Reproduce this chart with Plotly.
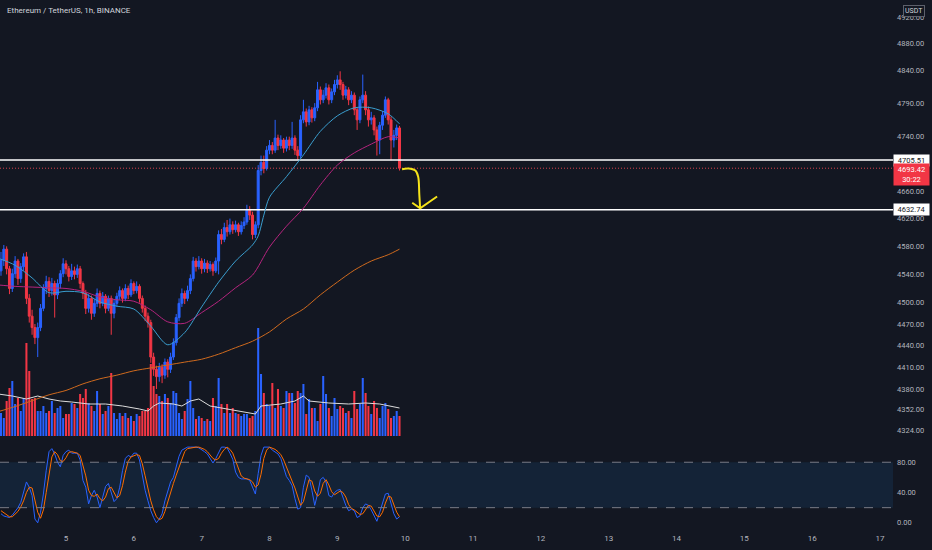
import numpy as np
import pandas as pd
import plotly.graph_objects as go

BG = '#131722'
UP = '#2962ff'
DOWN = '#f23645'
TXT = '#b2b5be'
FONT = 'Roboto'

BASE = pd.Timestamp('2021-11-04 00:00')

# hourly candles, Nov 4 01:00 .. Nov 9 22:00
FIRST_OPEN = 4545
closes = [4560, 4576, 4548, 4520, 4541, 4559, 4534, 4551, 4565, 4506,
          4481, 4465, 4451, 4465, 4492, 4520, 4530, 4517, 4527, 4511,
          4527, 4541, 4555, 4548, 4537, 4545, 4540, 4548, 4527, 4513,
          4492, 4506, 4485, 4499, 4513, 4499, 4509, 4492, 4506, 4485,
          4499, 4509, 4517, 4506, 4520, 4511, 4527, 4517, 4523, 4506,
          4492, 4481, 4472, 4424, 4407, 4397, 4410, 4399, 4417, 4407,
          4424, 4444, 4479, 4499, 4513, 4506, 4517, 4534, 4559, 4551,
          4559, 4548, 4556, 4548, 4554, 4545, 4559, 4597, 4590, 4607,
          4601, 4611, 4604, 4611, 4601, 4610, 4615, 4632, 4625, 4597,
          4611, 4690, 4702, 4693, 4720, 4727, 4720, 4738, 4727, 4735,
          4723, 4735, 4727, 4738, 4720, 4712, 4765, 4777, 4762, 4780,
          4768, 4783, 4810, 4795, 4802, 4813, 4795, 4807, 4818, 4825,
          4818, 4802, 4810, 4795, 4802, 4780, 4765, 4795, 4802, 4780,
          4765, 4768, 4750, 4735, 4757, 4772, 4795, 4765, 4735, 4742,
          4753, 4693.42]
highs = [4572, 4582, 4580, 4552, 4548, 4566, 4562, 4556, 4570, 4572,
         4512, 4490, 4470, 4472, 4498, 4526, 4538, 4536, 4535, 4531,
         4533, 4546, 4563, 4560, 4552, 4555, 4551, 4554, 4552, 4530,
         4518, 4512, 4510, 4505, 4520, 4517, 4515, 4512, 4510, 4510,
         4504, 4514, 4523, 4520, 4526, 4524, 4533, 4530, 4530, 4526,
         4510, 4496, 4486, 4476, 4430, 4412, 4416, 4414, 4422, 4421,
         4430, 4450, 4484, 4506, 4520, 4517, 4524, 4540, 4565, 4563,
         4566, 4563, 4562, 4560, 4559, 4557, 4564, 4603, 4605, 4614,
         4618, 4620, 4616, 4617, 4614, 4616, 4622, 4640, 4638, 4630,
         4616, 4698, 4712, 4712, 4726, 4735, 4732, 4765, 4743, 4742,
         4738, 4740, 4740, 4762, 4742, 4726, 4772, 4795, 4782, 4786,
         4784, 4790, 4822, 4815, 4810, 4820, 4818, 4812, 4825, 4832,
         4838, 4822, 4816, 4814, 4808, 4806, 4784, 4800, 4833, 4808,
         4785, 4777, 4772, 4755, 4762, 4778, 4800, 4798, 4770, 4750,
         4758, 4756]
lows = [4538, 4552, 4540, 4512, 4515, 4535, 4525, 4528, 4545, 4498,
        4472, 4455, 4442, 4424, 4460, 4488, 4512, 4508, 4510, 4479,
        4505, 4520, 4536, 4540, 4530, 4532, 4533, 4535, 4520, 4505,
        4484, 4486, 4476, 4480, 4494, 4492, 4495, 4485, 4488, 4455,
        4478, 4494, 4504, 4500, 4502, 4505, 4508, 4512, 4513, 4500,
        4486, 4474, 4465, 4416, 4398, 4380, 4390, 4388, 4394, 4396,
        4402, 4420, 4440, 4474, 4494, 4498, 4502, 4512, 4530, 4544,
        4547, 4541, 4543, 4542, 4544, 4538, 4542, 4540, 4583, 4586,
        4594, 4597, 4598, 4600, 4595, 4597, 4605, 4611, 4618, 4590,
        4592, 4606, 4683, 4686, 4690, 4714, 4714, 4716, 4720, 4722,
        4716, 4718, 4720, 4722, 4713, 4706, 4708, 4760, 4755, 4757,
        4761, 4763, 4778, 4788, 4790, 4797, 4788, 4790, 4802, 4812,
        4810, 4795, 4797, 4787, 4790, 4772, 4750, 4760, 4790, 4772,
        4755, 4758, 4742, 4712, 4714, 4750, 4768, 4758, 4705, 4724,
        4735, 4690]
volume = [23, 18, 35, 48, 55, 32, 38, 25, 38, 93,
          65, 37, 38, 25, 25, 30, 23, 25, 35, 23,
          28, 30, 18, 22, 22, 33, 32, 28, 42, 38,
          47, 33, 30, 25, 45, 32, 22, 25, 30, 63,
          23, 17, 23, 20, 23, 18, 20, 15, 22, 20,
          25, 25, 28, 72, 50, 42, 40, 35, 42, 38,
          33, 45, 43, 23, 17, 25, 37, 55, 28, 17,
          20, 18, 15, 17, 15, 38, 30, 58, 32, 23,
          32, 23, 28, 23, 22, 20, 22, 22, 18, 20,
          25, 108, 62, 43, 32, 30, 53, 28, 47, 30,
          28, 45, 43, 43, 33, 45, 43, 52, 22, 37,
          28, 28, 15, 32, 60, 42, 28, 20, 38, 27,
          30, 28, 23, 25, 18, 45, 27, 32, 58, 43,
          30, 22, 35, 28, 18, 30, 33, 27, 18, 20,
          25, 20]

vol_ma_hours = [0, 5, 10, 14, 18, 22, 26, 32, 38, 44, 50, 53, 55, 57, 62, 65,
                68, 71, 75, 79, 85, 91, 93, 100, 105, 108, 110, 117, 124, 130, 135, 142]
vol_ma = [42, 40, 37, 40, 37, 35, 34, 32, 32, 30, 27, 25, 30, 33, 32, 30,
          35, 37, 30, 28, 25, 22, 30, 32, 35, 40, 35, 33, 32, 33, 32, 28]

ema_fast_hours = [0, 6, 12, 18, 24, 30, 36, 42, 48, 54, 60, 66, 72, 78, 84, 90,
                  92, 94, 96, 102, 108, 114, 120, 126, 132, 138, 142]
ema_fast = [4563, 4553, 4535, 4514, 4516, 4514, 4501, 4495, 4491, 4467, 4441, 4458,
            4494, 4529, 4559, 4582, 4595, 4625, 4651, 4681, 4713, 4748, 4771, 4783,
            4783, 4774, 4759]
ema_hours = [0, 6, 12, 18, 24, 30, 36, 42, 48, 54, 60, 66, 72, 78, 84, 90,
             96, 102, 108, 114, 120, 126, 132, 138, 142]
ema_mid = [4525, 4523, 4522, 4521, 4520, 4516, 4508, 4504, 4502, 4490, 4473, 4471,
           4486, 4502, 4521, 4539, 4579, 4609, 4635, 4669, 4698, 4716, 4729, 4740, 4738]
ema_slow = [4349, 4356, 4364, 4372, 4378, 4387, 4394, 4399, 4405, 4409, 4413, 4417,
            4421, 4428, 4437, 4446, 4459, 4477, 4491, 4511, 4529, 4546, 4559, 4568, 4576]

stoch_k = [12, 9, 8, 7, 10, 15, 20, 27, 40, 54,
           47, 36, 5, 0, 14, 38, 69, 94, 98, 91,
           80, 74, 89, 94, 96, 92, 92, 92, 83, 56,
           47, 25, 36, 43, 34, 20, 34, 48, 52, 40,
           28, 32, 47, 69, 85, 89, 87, 92, 92, 83,
           60, 43, 29, 16, 7, 0, 5, 12, 29, 43,
           54, 60, 74, 88, 96, 98, 100, 100, 100, 100,
           99, 97, 94, 91, 85, 79, 85, 92, 100, 100,
           99, 92, 84, 67, 60, 58, 58, 58, 56, 47,
           38, 65, 89, 100, 100, 100, 96, 94, 91, 85,
           74, 61, 56, 49, 32, 18, 20, 47, 63, 60,
           43, 23, 38, 57, 60, 54, 36, 34, 40, 43,
           44, 34, 23, 16, 18, 16, 7, 9, 20, 25,
           23, 17, 9, 2, 14, 27, 38, 39, 25, 12,
           5, 8]
stoch_d = [16, 13, 10, 8, 8, 11, 15, 21, 29, 40,
           47, 46, 29, 14, 6, 17, 40, 67, 87, 94,
           90, 82, 81, 86, 93, 94, 93, 92, 89, 77,
           62, 43, 36, 35, 38, 32, 29, 34, 45, 47,
           40, 33, 36, 49, 67, 81, 87, 89, 90, 89,
           78, 62, 44, 29, 17, 8, 4, 6, 15, 28,
           42, 52, 63, 74, 86, 94, 98, 99, 100, 100,
           100, 99, 97, 94, 90, 85, 83, 85, 92, 97,
           100, 97, 92, 81, 70, 62, 59, 58, 57, 54,
           47, 50, 64, 85, 96, 100, 99, 97, 94, 90,
           83, 73, 64, 55, 46, 33, 23, 28, 43, 57,
           55, 42, 35, 39, 52, 57, 50, 41, 37, 39,
           42, 40, 34, 24, 19, 17, 14, 11, 12, 18,
           23, 22, 16, 9, 8, 14, 26, 35, 34, 25,
           14, 8]

levels = [4705.51, 4632.74]
last_price = 4693.42
countdown = '30:22'

price_ticks = [4324, 4352, 4380, 4410, 4440, 4470, 4500, 4540, 4580, 4620,
               4660, 4740, 4790, 4840, 4880, 4920]
stoch_ticks = [0, 40, 80]
day_labels = [str(d) for d in range(5, 18)]

# hand-drawn arrow (hours from BASE, price)
arrow_h = [142.9, 145.1, 147.6, 148.6, 149.0, 149.3]
arrow_p = [4692, 4693, 4690, 4681, 4655, 4635]
head_h = [146.5, 149.3, 155.3]
head_p = [4643, 4635, 4652]


def at_hours(hs):
    return [BASE + pd.Timedelta(hours=h) for h in hs]


times = pd.date_range('2021-11-04 01:00', periods=len(closes), freq='h')
opens = [FIRST_OPEN] + closes[:-1]
vol_colors = [UP if c >= o else DOWN for o, c in zip(opens, closes)]

x_left = BASE + pd.Timedelta(hours=0.65)
x_right = BASE + pd.Timedelta(hours=316.6)

fig = go.Figure()

# volume overlay (behind price)
fig.add_trace(go.Bar(x=times, y=volume, marker_color=vol_colors, marker_line_width=0,
                     width=0.72 * 3600 * 1000, xaxis='x', yaxis='y', showlegend=False))
fig.add_trace(go.Scatter(x=at_hours(vol_ma_hours), y=vol_ma, mode='lines',
                         line=dict(color='#dcdcdc', width=1), xaxis='x', yaxis='y',
                         showlegend=False))

# horizontal levels
for lv in levels:
    fig.add_trace(go.Scatter(x=[x_left, x_right], y=[lv, lv], mode='lines',
                             line=dict(color='#ffffff', width=1.6), yaxis='y2',
                             showlegend=False))
fig.add_trace(go.Scatter(x=[x_left, x_right], y=[last_price, last_price], mode='lines',
                         line=dict(color='#d8404b', width=1, dash='1px,2px'), yaxis='y2',
                         showlegend=False))

# moving averages
for hs, vals, col in [(ema_hours, ema_slow, '#cf6a1e'),
                      (ema_hours, ema_mid, '#b5247e'),
                      (ema_fast_hours, ema_fast, '#3a9ecf')]:
    fig.add_trace(go.Scatter(x=at_hours(hs), y=vals, mode='lines',
                             line=dict(color=col, width=1, shape='spline', smoothing=0.8),
                             yaxis='y2', showlegend=False))

fig.add_trace(go.Candlestick(
    x=times, open=opens, high=highs, low=lows, close=closes,
    increasing=dict(line=dict(color=UP, width=1), fillcolor=UP),
    decreasing=dict(line=dict(color=DOWN, width=1), fillcolor=DOWN),
    xaxis='x', yaxis='y2', showlegend=False))

# yellow arrow
fig.add_trace(go.Scatter(x=at_hours(arrow_h), y=arrow_p, mode='lines',
                         line=dict(color='#f5e31a', width=2, shape='spline'),
                         yaxis='y2', showlegend=False))
fig.add_trace(go.Scatter(x=at_hours(head_h), y=head_p, mode='lines',
                         line=dict(color='#f5e31a', width=2),
                         yaxis='y2', showlegend=False))

# stochastic RSI
fig.add_trace(go.Scatter(x=times, y=stoch_k, mode='lines', line=dict(color=UP, width=1),
                         yaxis='y3', showlegend=False))
fig.add_trace(go.Scatter(x=times, y=stoch_d, mode='lines', line=dict(color='#ff6d00', width=1),
                         yaxis='y3', showlegend=False))

PH = 532.0
main_bottom = (PH - 438) / PH
stoch_top = (PH - 444) / PH

annotations = [
    dict(text='Ethereum / TetherUS, 1h, BINANCE', xref='paper', yref='paper',
         x=0.0056, y=1 - 11 / PH, xanchor='left', yanchor='middle', showarrow=False,
         font=dict(family=FONT, size=8, color='#d1d4dc')),
    dict(text='USDT', xref='paper', yref='paper', x=1 + 21 / 893, y=1 - 11 / PH,
         xanchor='center', yanchor='middle', showarrow=False,
         font=dict(family=FONT, size=7, color='#d1d4dc'),
         bordercolor='#5d606b', borderwidth=1, borderpad=1, bgcolor=BG),
]
for lv in levels:
    annotations.append(dict(text=f'{lv:.2f}', xref='paper', yref='y2', x=1.0,
                            y=np.log10(lv), xanchor='left', yanchor='middle',
                            showarrow=False, width=33, bgcolor='#ffffff', borderpad=1,
                            font=dict(family=FONT, size=7.5, color=BG)))
annotations.append(dict(text=f'{last_price:.2f}<br>{countdown}', xref='paper', yref='y2',
                        x=1.0, y=np.log10(last_price), xanchor='left', yanchor='top',
                        yshift=5, showarrow=False, width=33, bgcolor=DOWN, borderpad=1,
                        align='center', font=dict(family=FONT, size=7.5, color='#ffffff')))

shapes = [
    dict(type='rect', xref='paper', yref='y3', x0=0, x1=1, y0=20, y1=80,
         fillcolor='rgba(33,150,243,0.1)', line=dict(width=0), layer='below'),
    dict(type='line', xref='paper', yref='y3', x0=0, x1=1, y0=80, y1=80,
         line=dict(color='#787b86', width=1, dash='dash')),
    dict(type='line', xref='paper', yref='y3', x0=0, x1=1, y0=20, y1=20,
         line=dict(color='#787b86', width=1, dash='dash')),
]

fig.update_layout(
    width=932, height=550,
    margin=dict(l=0, r=39, t=0, b=18),
    paper_bgcolor=BG, plot_bgcolor=BG,
    font=dict(family=FONT, color=TXT, size=8),
    boxgap=0.3, boxgroupgap=0,
    showlegend=False,
    xaxis=dict(type='date', range=[x_left, x_right], anchor='y3',
               tickvals=[pd.Timestamp('2021-11-05') + pd.Timedelta(days=i) for i in range(len(day_labels))],
               ticktext=day_labels, tickfont=dict(size=8, color=TXT),
               showgrid=False, zeroline=False, showline=False, ticks='',
               rangeslider=dict(visible=False)),
    yaxis=dict(domain=[main_bottom, 1], range=[-2, 436], visible=False, fixedrange=True),
    yaxis2=dict(overlaying='y', side='right', type='log', anchor='x',
                range=[np.log10(4313.3), np.log10(4947.2)],
                tickvals=price_ticks, tickformat='.2f', tickfont=dict(size=7.5, color=TXT),
                showgrid=False, zeroline=False, showline=False, ticks='',
                ticklabelstandoff=3),
    yaxis3=dict(domain=[0, stoch_top], range=[-12.15, 104.1], side='right', anchor='x',
                tickvals=stoch_ticks, tickformat='.2f', tickfont=dict(size=7.5, color=TXT),
                showgrid=False, zeroline=False, showline=False, ticks='',
                ticklabelstandoff=3),
    annotations=annotations,
    shapes=shapes,
)

fig.write_html('out.html', config={'displayModeBar': False},
               post_script="document.body.style.margin='0';document.body.style.background='#131722';")
